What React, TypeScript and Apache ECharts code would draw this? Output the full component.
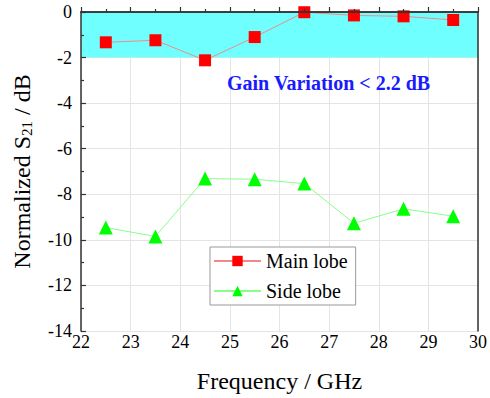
import React, { useEffect, useRef } from "react";
import * as echarts from "echarts";

const frequencies = [22.5, 23.5, 24.5, 25.5, 26.5, 27.5, 28.5, 29.5];
const mainLobe = [-1.33, -1.24, -2.12, -1.1, -0.01, -0.15, -0.19, -0.35];
const sideLobe = [-9.46, -9.85, -7.31, -7.34, -7.53, -9.27, -8.64, -8.96];
const bandRange = [0, -2];
const annotation = "Gain Variation < 2.2 dB";

const FONT = "Liberation Serif";

export default function App() {
  const ref = useRef<HTMLDivElement>(null);
  useEffect(() => {
    const chart = echarts.init(ref.current!, null, { renderer: "svg" });
    const axisLineStyle = { color: "#333", width: 1.5 };
    const xBase = { type: "value", min: 22, max: 30, interval: 1 };
    const yBase = { type: "value", min: -14, max: 0, interval: 2 };
    chart.setOption({
      animation: false,
      textStyle: { fontFamily: FONT },
      grid: { left: 81, right: 12, top: 12, bottom: 67 },
      xAxis: [
        {
          ...xBase,
          position: "bottom",
          z: 5,
          axisLine: { show: true, lineStyle: axisLineStyle },
          axisTick: { show: true, inside: true, length: 5, lineStyle: { color: "#333", width: 1.2 } },
          minorTick: { show: true, splitNumber: 2, length: 3, lineStyle: { color: "#333", width: 1.2 } },
          axisLabel: { fontSize: 18, color: "#000", margin: 2, fontFamily: FONT },
          splitLine: { show: false },
          name: "Frequency / GHz",
          nameLocation: "middle",
          nameGap: 38,
          nameTextStyle: { fontSize: 24, color: "#000", fontFamily: FONT },
        },
        {
          ...xBase,
          position: "top",
          z: 5,
          axisLine: { show: true, onZero: false, lineStyle: axisLineStyle },
          axisTick: { show: false },
          axisLabel: { show: false },
          splitLine: { show: false },
        },
        {
          ...xBase,
          position: "bottom",
          z: 0,
          axisLine: { show: false },
          axisTick: { show: false },
          axisLabel: { show: false },
          splitLine: { show: true, lineStyle: { color: "#e4e4e4", width: 1 } },
        },
      ],
      yAxis: [
        {
          ...yBase,
          position: "left",
          z: 5,
          axisLine: { show: true, lineStyle: axisLineStyle },
          axisTick: { show: true, inside: true, length: 5, lineStyle: { color: "#333", width: 1.2 } },
          minorTick: { show: true, splitNumber: 2, length: 3, lineStyle: { color: "#333", width: 1.2 } },
          axisLabel: { fontSize: 18, color: "#000", margin: 9, fontFamily: FONT },
          splitLine: { show: false },
          name: "{n|Normalized S}{sub|21}{n| / dB}",
          nameLocation: "middle",
          nameGap: 44,
          nameTextStyle: {
            color: "#000",
            fontFamily: FONT,
            rich: {
              n: { fontSize: 24, fontFamily: FONT, color: "#000", lineHeight: 30 },
              sub: { fontSize: 15, fontFamily: FONT, color: "#000", lineHeight: 30, padding: [10, 0, 0, 0] },
            },
          },
        },
        {
          ...yBase,
          position: "right",
          z: 5,
          axisLine: { show: true, onZero: false, lineStyle: axisLineStyle },
          axisTick: { show: false },
          axisLabel: { show: false },
          splitLine: { show: false },
        },
        {
          ...yBase,
          position: "left",
          z: 0,
          axisLine: { show: false },
          axisTick: { show: false },
          axisLabel: { show: false },
          splitLine: { show: true, lineStyle: { color: "#e4e4e4", width: 1 } },
        },
      ],
      legend: {
        left: 210,
        top: 247,
        orient: "vertical",
        itemWidth: 47,
        itemHeight: 13,
        itemGap: 10,
        padding: [4, 8, 4, 3],
        backgroundColor: "#fff",
        borderColor: "#999",
        borderWidth: 1,
        borderRadius: 0,
        textStyle: { fontSize: 20, color: "#000", fontFamily: FONT },
        data: ["Main lobe", "Side lobe"],
      },
      series: [
        {
          name: "Main lobe",
          type: "line",
          z: 3,
          data: frequencies.map((f, i) => [f, mainLobe[i]]),
          symbol: "rect",
          symbolSize: 12,
          itemStyle: { color: "#ff0000" },
          lineStyle: { color: "#f08a8a", width: 1 },
          markArea: {
            silent: true,
            itemStyle: { color: "#70ffff", opacity: 1 },
            data: [[{ xAxis: 22, yAxis: bandRange[0] }, { xAxis: 30, yAxis: bandRange[1] }]],
          },
        },
        {
          name: "Side lobe",
          type: "line",
          z: 3,
          data: frequencies.map((f, i) => [f, sideLobe[i]]),
          symbol: "triangle",
          symbolSize: 14,
          itemStyle: { color: "#00ff00" },
          lineStyle: { color: "#88ff88", width: 1 },
        },
      ],
      graphic: [
        {
          type: "text",
          left: 227,
          top: 73,
          z: 10,
          style: {
            text: annotation,
            fontSize: 20,
            fontWeight: "bold",
            fontFamily: FONT,
            fill: "#1a1aff",
          },
        },
      ],
    });
    return () => chart.dispose();
  }, []);
  return <div ref={ref} style={{ width: 490, height: 398, position: "absolute", left: 0, top: 0 }} />;
}
